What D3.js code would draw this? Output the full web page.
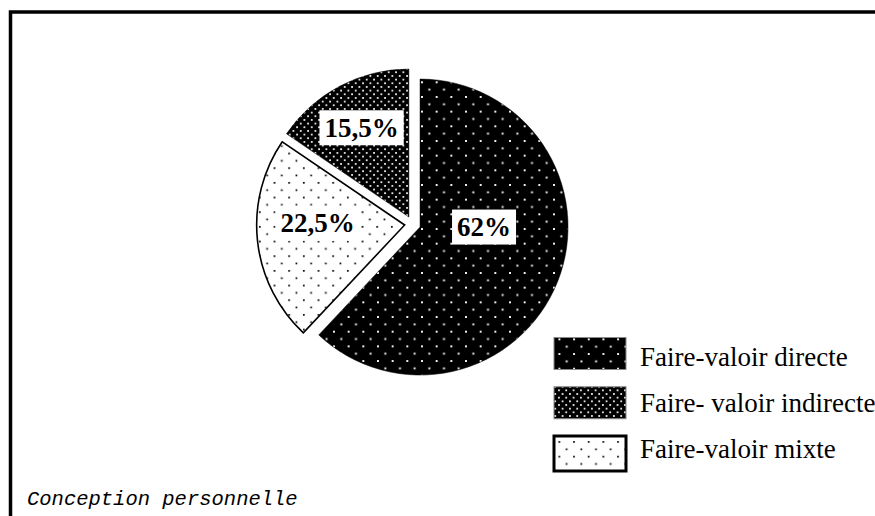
<!DOCTYPE html>
<html>
<head>
<meta charset="utf-8">
<script src="https://cdn.jsdelivr.net/npm/d3@7"></script>
<style>
  html, body { margin: 0; padding: 0; background: #fff; }
  svg { display: block; }
</style>
</head>
<body>
<svg id="chart" width="875" height="516"></svg>
<script>
// Land tenure modes (share of holdings, %)
const categories = ["Faire-valoir directe", "Faire- valoir indirecte", "Faire-valoir mixte"];
const values = [62, 15.5, 22.5];
const valueLabels = ["62%", "15,5%", "22,5%"];
const patternIds = ["dotsSparseOnBlack", "dotsDenseOnBlack", "dotsSparseOnWhite"];
// clockwise drawing order of the slices, starting at 12 o'clock
const sliceOrder = [0, 2, 1];
const sourceNote = "Conception personnelle";

const svg = d3.select("#chart");
const defs = svg.append("defs");

// Fill patterns: staggered dot grids
function dotPattern(id, size, bg, fg, dot) {
  const p = defs.append("pattern")
    .attr("id", id)
    .attr("patternUnits", "userSpaceOnUse")
    .attr("width", size).attr("height", size);
  p.append("rect").attr("width", size).attr("height", size).attr("fill", bg);
  p.append("rect").attr("x", 1).attr("y", 1).attr("width", dot).attr("height", dot).attr("fill", fg);
  p.append("rect").attr("x", 1 + size / 2).attr("y", 1 + size / 2).attr("width", dot).attr("height", dot).attr("fill", fg);
}
dotPattern("dotsSparseOnBlack", 14.67, "#000", "#fff", 1.9);
dotPattern("dotsDenseOnBlack", 7.33, "#000", "#fff", 1.7);
dotPattern("dotsSparseOnWhite", 14.67, "#fff", "#000", 1.7);

// Frame (left and top edges)
svg.append("path")
  .attr("d", "M10.5,516 V12 H875")
  .attr("fill", "none")
  .attr("stroke", "#000")
  .attr("stroke-width", 3.5);

// Pie
const cx = 412.6, cy = 224.1, radius = 148, explode = 8;
const pie = d3.pie().sort(null).value(i => values[i]);
const arcs = pie(sliceOrder);
const arc = d3.arc().innerRadius(0).outerRadius(radius);

const slices = svg.append("g").attr("transform", `translate(${cx},${cy})`);
arcs.forEach(a => {
  const i = a.data;
  const mid = (a.startAngle + a.endAngle) / 2;
  const [ox, oy] = d3.pointRadial(mid, explode);
  const g = slices.append("g").attr("transform", `translate(${ox},${oy})`);
  g.append("path")
    .attr("d", arc(a))
    .attr("fill", `url(#${patternIds[i]})`)
    .attr("stroke", "#000")
    .attr("stroke-width", i === 2 ? 1.6 : 0.5);

  // value label in a white box
  const labelPlace = [[Math.PI / 2, 64], null, [Math.PI * 1.506, 87]][i] || [mid, 101];
  const [lx, ly] = d3.pointRadial(labelPlace[0], labelPlace[1]);
  const t = g.append("text")
    .attr("x", lx).attr("y", ly)
    .attr("text-anchor", "middle")
    .attr("dominant-baseline", "central")
    .attr("font-family", "'Liberation Serif', 'Times New Roman', serif")
    .attr("font-weight", "bold")
    .attr("font-size", 27)
    .attr("fill", "#000")
    .text(valueLabels[i]);
  const bb = t.node().getBBox();
  g.insert("rect", "text")
    .attr("x", bb.x - 5).attr("y", ly - 17.5)
    .attr("width", bb.width + 10).attr("height", 35)
    .attr("fill", "#fff");
});

// Legend
const legend = svg.append("g");
const swatchY = d3.scalePoint().domain(d3.range(categories.length)).range([353.5, 452]);
const textY = d3.scalePoint().domain(d3.range(categories.length)).range([366, 458]);
categories.forEach((name, i) => {
  const y = swatchY(i);
  legend.append("rect")
    .attr("x", 554).attr("y", y - 16)
    .attr("width", 72).attr("height", i === 2 ? 35 : 32)
    .attr("fill", `url(#${patternIds[i]})`)
    .attr("stroke", i === 2 ? "#000" : "#888")
    .attr("stroke-width", i === 2 ? 3 : 1);
  legend.append("text")
    .attr("x", 640).attr("y", textY(i))
    .attr("font-family", "'Liberation Serif', 'Times New Roman', serif")
    .attr("font-size", 27)
    .attr("fill", "#000")
    .text(name);
});

// Source note
svg.append("text")
  .attr("x", 27).attr("y", 505)
  .attr("font-family", "'Liberation Mono', 'Courier New', monospace")
  .attr("font-style", "italic")
  .attr("font-size", 20.5)
  .attr("fill", "#000")
  .text(sourceNote);
</script>
</body>
</html>
